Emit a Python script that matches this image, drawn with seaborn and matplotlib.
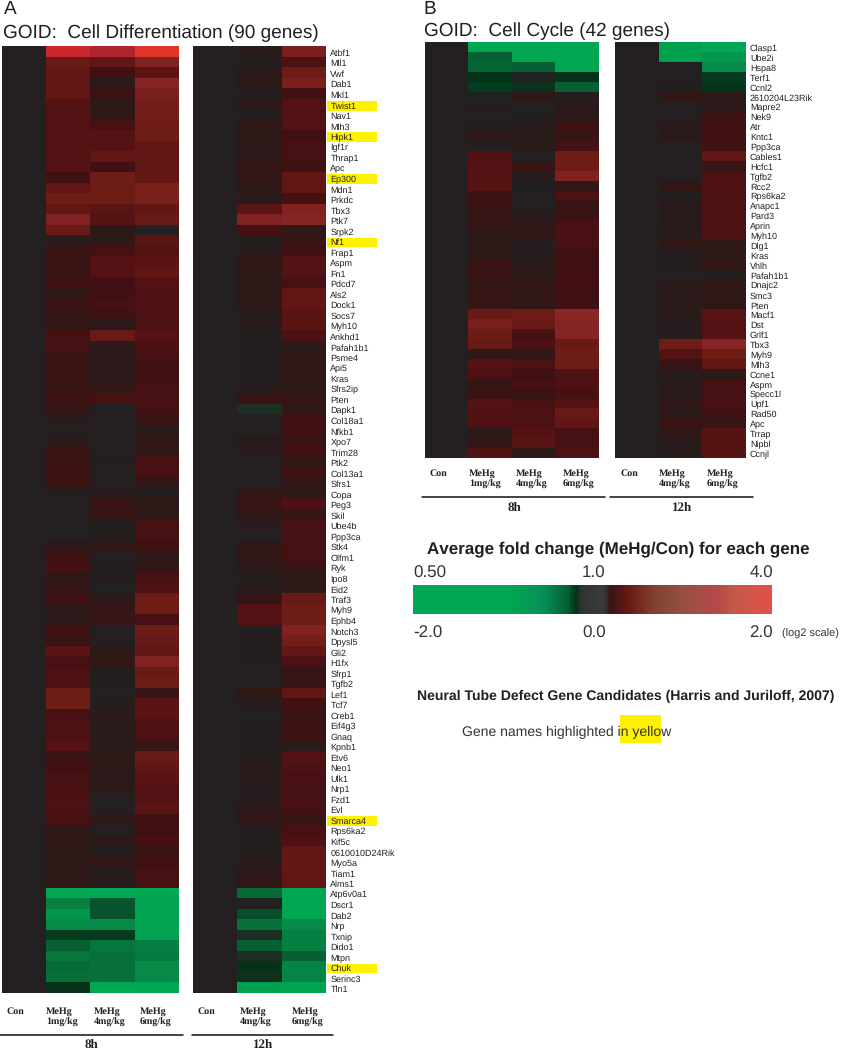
import matplotlib
matplotlib.use("Agg")
import matplotlib.pyplot as plt
import seaborn as sns
import pandas as pd
from matplotlib.colors import LinearSegmentedColormap, Normalize
from matplotlib.cm import ScalarMappable
from matplotlib.patches import Rectangle
from matplotlib.transforms import ScaledTranslation, blended_transform_factory

W, H = 843, 1050

# ---------- data ----------
genes_a = ["Atbf1","Mll1","Vwf","Dab1","Mkl1","Twist1","Nav1","Mlh3","Hipk1","Igf1r","Thrap1","Apc","Ep300","Mdn1","Prkdc","Tbx3","Ptk7","Srpk2","Nf1","Frap1",
"Aspm","Fn1","Pdcd7","Als2","Dock1","Socs7","Myh10","Ankhd1","Pafah1b1","Psme4","Api5","Kras","Sfrs2ip","Pten","Dapk1","Col18a1","Nfkb1","Xpo7","Trim28","Ptk2",
"Col13a1","Sfrs1","Copa","Peg3","Skil","Ube4b","Ppp3ca","Stk4","Olfm1","Ryk","Ipo8","Eid2","Traf3","Myh9","Ephb4","Notch3","Dpysl5","Gli2","H1fx","Sfrp1",
"Tgfb2","Lef1","Tcf7","Creb1","Eif4g3","Gnaq","Kpnb1","Etv6","Neo1","Ulk1","Nrp1","Fzd1","Evl","Smarca4","Rps6ka2","Kif5c","0610010D24Rik","Myo5a","Tiam1","Alms1",
"Atp6v0a1","Dscr1","Dab2","Nrp","Txnip","Dido1","Mtpn","Chuk","Serinc3","Tln1"]
a_8h_1mg = [1.6,.55,.5,.5,.5,.4,.4,.4,.4,.4,.4,.4,.25,.5,.6,.5,.75,.55,.08,.2,
.2,.2,.25,.15,.22,.15,.15,.3,.3,.2,.2,.2,.2,.22,.18,.05,0,.08,.2,.2,
.22,.22,.02,0,0,0,0,.12,.22,.3,.15,.18,.25,.1,.1,.25,.2,.45,.3,.35,
.35,.6,.6,.3,.33,.33,.4,.2,.25,.3,.3,.33,.35,.3,.13,.15,.12,.12,.12,.15,
-1.5,-.9,-1.15,-1.0,-.3,-.6,-.8,-.7,-.75,-.25]
a_8h_4mg = [1.3,.5,.25,.1,.2,.1,.12,.3,.4,.4,.5,.25,.6,.6,.6,.45,.4,.1,.12,.3,
.4,.4,.25,.25,.3,.22,.12,.55,.1,.1,.08,.1,.15,.3,0,0,0,0,0,.03,
0,0,.05,.2,.2,.03,.03,.15,0,.03,.02,-.02,.1,.18,.18,0,0,.1,.15,.03,
.03,0,.02,.08,.08,.08,.08,.12,.12,.1,.1,0,0,.12,0,.12,.02,.15,.04,.06,
-1.4,-.5,-.5,-1.0,-.3,-.8,-.75,-.75,-.75,-1.45]
a_8h_6mg = [1.9,.75,.45,.8,.7,.65,.65,.6,.6,.5,.5,.5,.5,.7,.7,.5,.55,0,.45,.4,
.45,.5,.4,.35,.35,.35,.35,.4,.35,.3,.25,.25,.3,.3,.3,.2,.05,.15,.15,.3,
.3,.15,.03,.12,.12,.3,.3,.22,.12,.15,.3,.35,.6,.6,.3,.6,.55,.5,.75,.55,
.6,.2,.45,.45,.35,.35,.2,.55,.5,.45,.4,.4,.45,.25,.25,.3,.2,.25,.3,.3,
-1.5,-1.35,-1.35,-1.35,-1.35,-.9,-.85,-1.0,-1.0,-1.5]
a_12h_4mg = [.05,.03,.12,.12,.02,.12,.03,.15,.12,.1,.12,.18,.15,.12,.08,.45,.75,.3,.03,.05,
.15,.12,.12,.12,.12,.05,.05,.03,.02,.02,.03,.03,.05,.2,-.1,0,0,.07,.05,0,
0,0,.15,.2,.15,.05,0,.15,.15,.12,.03,.07,.18,.4,.4,.01,.03,.02,.02,0,
0,.15,.05,0,.02,.02,.02,.02,.05,.05,.04,.04,.13,.13,.02,.02,.03,.05,.13,.13,
-.7,-.02,-.45,-.75,-.1,-.6,-.1,-.25,-.2,-1.3]
a_12h_6mg = [.7,.35,.6,.7,.25,.4,.4,.4,.25,.3,.3,.22,.5,.5,.3,.75,.8,.12,.2,.25,
.4,.4,.3,.5,.5,.45,.45,.35,.07,.15,.15,.15,.12,.18,.15,.25,.25,.2,.25,.15,
.25,.15,.12,.35,.2,.3,.3,.3,.3,.18,.12,.12,.55,.6,.6,.75,.65,.5,.35,.18,
.18,.5,.25,.2,.22,.22,.08,.4,.35,.3,.3,.3,.3,.2,.3,.35,.5,.5,.5,.5,
-1.5,-1.5,-1.5,-1.0,-.9,-.9,-.6,-.95,-.95,-1.35]

genes_b = ["Clasp1","Ube2i","Hspa8","Terf1","Ccnl2","2610204L23Rik","Mapre2","Nek9","Atr","Kntc1","Ppp3ca","Cables1","Hcfc1","Tgfb2","Rcc2","Rps6ka2","Anapc1","Pard3","Aprin","Myh10",
"Dlg1","Kras","Vhlh","Pafah1b1","Dnajc2","Smc3","Pten","Macf1","Dst","Grlf1","Tbx3","Myh9","Mlh3","Ccne1","Aspm","Specc1l","Upf1","Rad50","Apc","Trrap","Nipbl","Ccnjl"]
b_8h_1mg = [-1.5,-.6,-.65,-.25,-.3,-.02,.04,0,.03,.12,-.01,.38,.4,.42,.42,.22,.22,.18,.16,.12,
.12,.12,.2,.2,.15,.18,.18,.55,.7,.6,.55,.15,.4,.35,.18,.22,.4,.38,.38,.08,.15,.38]
b_8h_4mg = [-1.5,-1.5,-.6,-.02,-.2,.12,-.02,-.01,.05,.08,.08,0,.2,.05,-.01,0,0,.06,.13,.13,
.04,.04,.1,.1,.15,.15,.15,.6,.55,.3,.35,.15,.35,.25,.3,.2,.3,.33,.33,.4,.45,.12]
b_8h_6mg = [-1.5,-1.5,-1.4,-.25,-.6,.04,.1,.1,.22,.2,.3,.6,.6,.75,.15,.35,.2,.2,.32,.32,
.3,.25,.25,.28,.28,.25,.25,.9,.8,.8,.55,.6,.6,.35,.35,.3,.4,.55,.5,.3,.3,.33]
b_12h_4mg = [-1.3,-1.3,0,0,-.01,.15,0,0,.1,.1,.01,.01,.01,.01,.15,.02,.07,.07,.07,.05,
.15,.03,.02,.01,.08,.08,.08,.08,.04,.04,.6,.4,.2,.05,.07,.1,.13,.1,.2,.15,.05,.05]
b_12h_6mg = [-1.4,-1.2,-1.0,-.3,-.28,.1,.1,.22,.25,.25,.25,.5,.18,.35,.35,.33,.33,.33,.33,.33,
.12,.12,.15,.02,.15,.15,.15,.45,.4,.4,.85,.6,.5,.12,.3,.3,.3,.25,.2,.42,.42,.42]

highlight_genes = ["Twist1","Hipk1","Ep300","Nf1","Smarca4","Chuk"]
labels_8h = ["Con", "MeHg\n1mg/kg", "MeHg\n4mg/kg", "MeHg\n6mg/kg"]
labels_12h = ["Con", "MeHg\n4mg/kg", "MeHg\n6mg/kg"]

# ---------- styling ----------
sns.set_theme(style="white")
plt.rcParams["font.family"] = ["Liberation Sans", "DejaVu Sans"]
plt.rcParams["text.hinting"] = "no_hinting"
plt.rcParams["text.hinting_factor"] = 1
TXT = "#231f20"
VMIN, VMAX = -2, 2
stops = [(-2,"#00a651"),(-1.4,"#00a651"),(-1.0,"#058a47"),(-.7,"#066a38"),(-.4,"#054a28"),
         (-.25,"#053218"),(-.1,"#1d2f25"),(-.01,"#231f20"),(0,"#231f20"),(.1,"#2c1a1a"),(.25,"#3f1012"),
         (.4,"#541214"),(.6,"#6e1c16"),(.8,"#852424"),(1.0,"#902828"),(1.5,"#c02030"),(2,"#e93a28")]
cmap = LinearSegmentedColormap.from_list("fold", [((v-VMIN)/(VMAX-VMIN), c) for v, c in stops])
bar_stops = [(0,"#00a651"),(.27,"#00a651"),(.36,"#089058"),(.43,"#056035"),(.455,"#033015"),(.47,"#333333"),
             (.53,"#3a3a3a"),(.55,"#3a1515"),(.605,"#6a1a15"),(.67,"#7f4030"),(.75,"#96503f"),(.85,"#b5484c"),
             (.89,"#c05a48"),(1,"#e45048")]
bar_cmap = LinearSegmentedColormap.from_list("bar", bar_stops)

fig = plt.figure(figsize=(W/100, H/100), dpi=100, facecolor="white")

def axpx(x0, y0, x1, y1):
    return fig.add_axes([x0/W, 1-y1/H, (x1-x0)/W, (y1-y0)/H])

def tx(x, y, s, **kw):
    kw.setdefault("color", TXT)
    kw.setdefault("va", "center")
    return fig.text(x/W, 1-y/H, s, **kw)

def heat(box, columns, genes, show_labels, label_drop=1.3):
    ax = axpx(*box)
    data = {"Con": [0.0]*len(genes)}
    data.update(columns)
    df = pd.DataFrame(data, index=genes)
    sns.heatmap(df, ax=ax, cmap=cmap, vmin=VMIN, vmax=VMAX, cbar=False, linewidths=0, rasterized=True,
                xticklabels=False, yticklabels=genes if show_labels else False)
    ax.set_xlabel(""); ax.set_ylabel("")
    if show_labels:
        ax.yaxis.tick_right()
        ax.tick_params(axis="y", length=0, pad=3.2, labelsize=6.8, labelcolor=TXT, labelrotation=0)
        off = ScaledTranslation(0, -label_drop/100, fig.dpi_scale_trans)
        for t in ax.get_yticklabels():
            t.set_transform(t.get_transform() + off)
        trans = blended_transform_factory(ax.transAxes, ax.transData)
        for g in highlight_genes:
            if g in genes:
                r = genes.index(g)
                ax.add_patch(Rectangle((1.006, r+0.2), 50/(box[2]-box[0]), 0.93, transform=trans,
                                       facecolor="#fff200", edgecolor="none", clip_on=False, zorder=0.2))
    return ax

# panel A
heat((2,46,179,993), {"1":a_8h_1mg,"4":a_8h_4mg,"6":a_8h_6mg}, genes_a, False)
heat((193,46,326,993), {"4":a_12h_4mg,"6":a_12h_6mg}, genes_a, True)
# panel B
heat((424.5,42,599,458), {"1":b_8h_1mg,"4":b_8h_4mg,"6":b_8h_6mg}, genes_b, False)
heat((615,42,745.5,458), {"4":b_12h_4mg,"6":b_12h_6mg}, genes_b, True, label_drop=0.7)

# titles
tx(4, 0.5, "A", fontsize=14, va="top")
tx(423, 0.5, "B", fontsize=14, va="top")
tx(3, 33.5, "GOID:  Cell Differentiation (90 genes)", fontsize=13.95)
tx(424, 31.5, "GOID:  Cell Cycle (42 genes)", fontsize=13.75)

# column labels and group rules
SERIF = ["Liberation Serif", "DejaVu Serif"]
def col_labels(xs, labels, y):
    for x, s in zip(xs, labels):
        lines = s.split("\n")
        tx(x, y, lines[0], family=SERIF, fontweight="bold", fontsize=7.5)
        if len(lines) > 1:
            tx(x, y+11.5, lines[1], family=SERIF, fontweight="bold", fontsize=7.5)

def rule(x0, x1, y, label, lx, ly):
    fig.add_artist(plt.Line2D([x0/W, x1/W], [1-y/H, 1-y/H], color="#111111", lw=1.1))
    tx(lx, ly, label, family=SERIF, fontweight="bold", fontsize=9.5, ha="center")

col_labels([7,46,94,140], labels_8h, 1011)
col_labels([198,240,292], labels_12h, 1011)
rule(0,183,1034.7,"8h",91,1045)
rule(192,333,1034.7,"12h",263,1045)
col_labels([430,469,516,563], labels_8h, 473)
col_labels([621,659,707], labels_12h, 473)
rule(422,605,497,"8h",514,508)
rule(610,753,497,"12h",682,508)

# colour bar
tx(427, 549, "Average fold change (MeHg/Con) for each gene", fontweight="bold", fontsize=12.1)
cax = axpx(413, 585, 772, 614)
cb = fig.colorbar(ScalarMappable(norm=Normalize(VMIN, VMAX), cmap=bar_cmap), cax=cax, orientation="horizontal")
cb.outline.set_visible(False)
cb.set_ticks([])
for x, s, ha in [(413,"0.50","left"),(594,"1.0","center"),(773,"4.0","right")]:
    tx(x, 573, s, fontsize=12.5, ha=ha, color="#333333")
for x, s, ha in [(413,"-2.0","left"),(594,"0.0","center"),(773,"2.0","right")]:
    tx(x, 633, s, fontsize=12.5, ha=ha, color="#333333")
tx(782, 634, "(log2 scale)", fontsize=8.2, color="#333333")

# neural tube note
tx(417, 696, "Neural Tube Defect Gene Candidates (Harris and Juriloff, 2007)", fontweight="bold", fontsize=10.1)
fig.add_artist(Rectangle((620/W, 1-743/H), 41/W, 28/H, transform=fig.transFigure, facecolor="#fff200", edgecolor="none", zorder=0.5))
t = tx(462, 732, "Gene names highlighted in yellow", fontsize=10.1, color="#333333")
t.set_zorder(3)

fig.savefig("out.png", dpi=100)
